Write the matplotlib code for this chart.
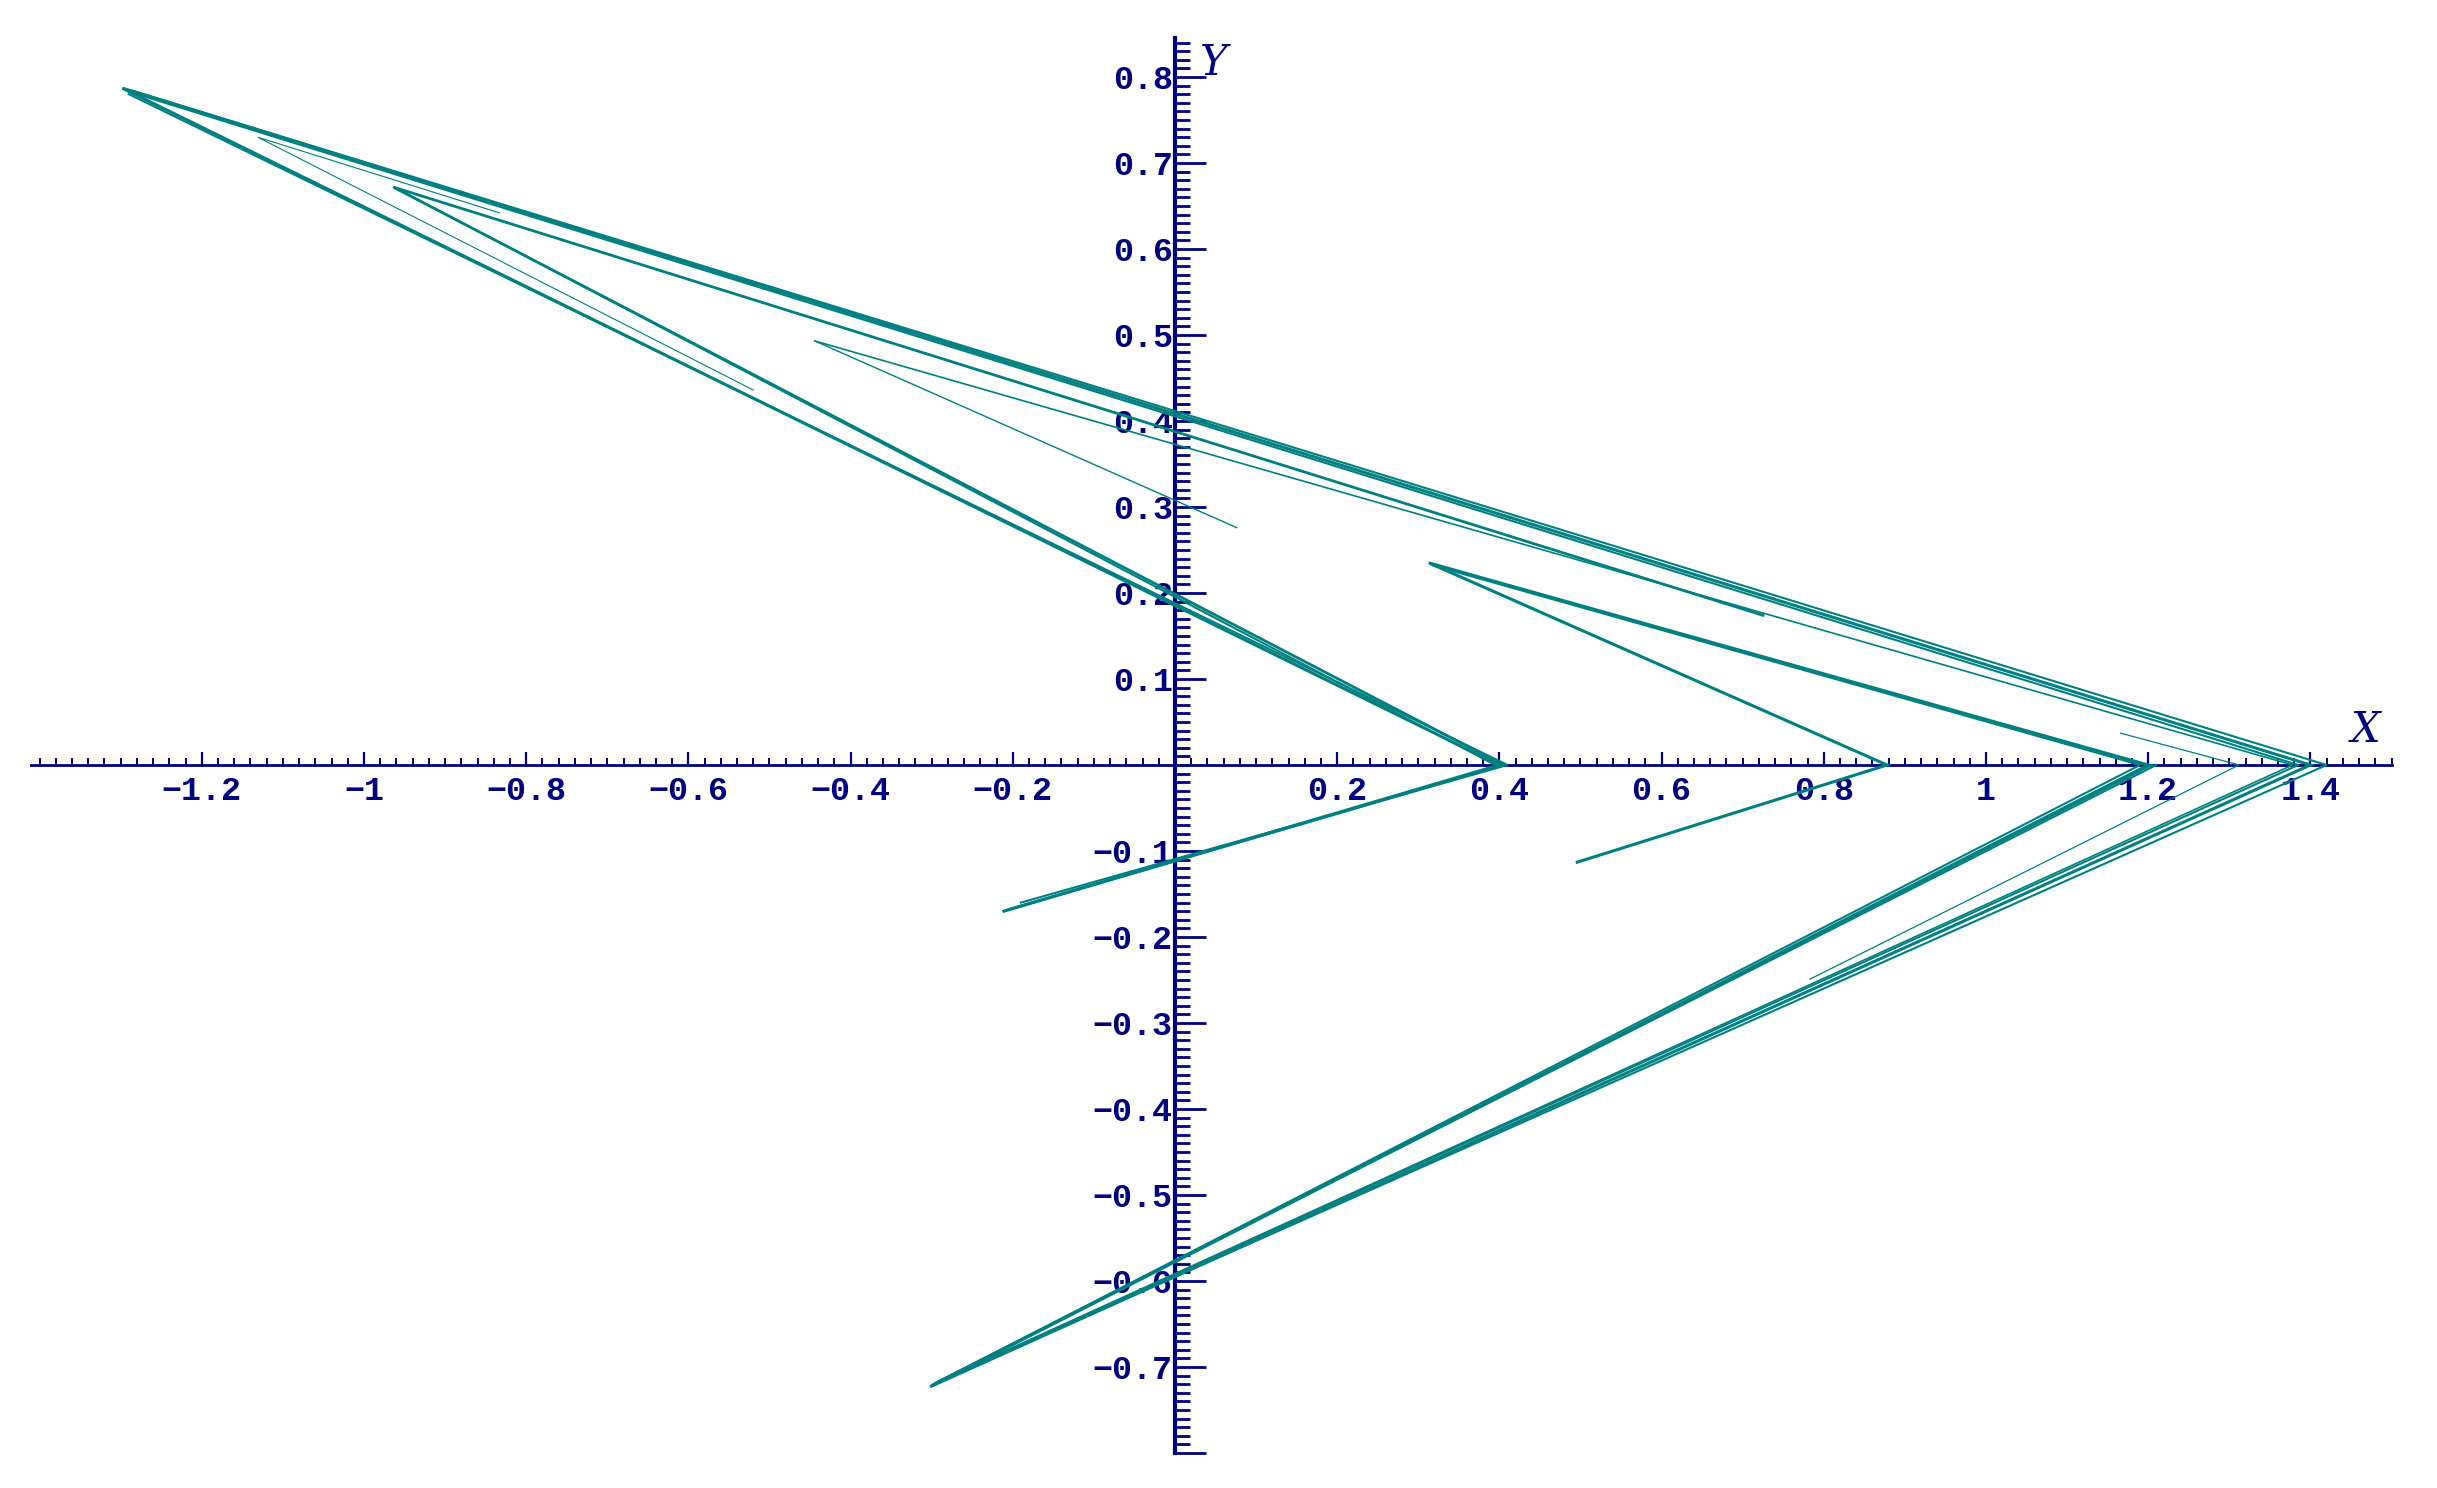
import matplotlib
matplotlib.use("Agg")
import matplotlib.pyplot as plt
import numpy as np
from matplotlib.ticker import FixedLocator, FixedFormatter

# ---- data: polylines (x, y vertices) ----
main_x = [0.496, 0.878, 0.313, 1.200, -0.302, 1.400, -1.298, 0.400, -0.211]
main_y = [-0.113, 0.0, 0.235, 0.0, -0.723, 0.0, 0.787, 0.0, -0.170]

inner_x = [0.725, -0.964, 0.405, -0.205]
inner_y = [0.174, 0.672, 0.0, -0.168]

copy1_x = [0.318, 1.190, -0.298, 1.385, -1.290]
copy1_y = [0.232, 0.0, -0.720, 0.0, 0.783]

copy2_x = [1.210, -0.300, 1.420, -1.285]
copy2_y = [0.0, -0.721, 0.0, 0.784]

mid_x = [-0.444, 1.378, -0.295, 1.205]
mid_y = [0.493, 0.0, -0.718, 0.0]

short_x = [0.076, -0.444]
short_y = [0.276, 0.493]

inner2_x = [-0.955, 0.395]
inner2_y = [0.668, 0.0]

right_x = [0.783, 1.312, 1.166]
right_y = [-0.249, 0.0, 0.037]

tip_x = [-0.833, -1.131, -0.520]
tip_y = [0.642, 0.730, 0.436]

lower_x = [-1.290, 0.410, -0.190]
lower_y = [0.780, 0.0, -0.160]

x_major = [-1.2, -1.0, -0.8, -0.6, -0.4, -0.2, 0.2, 0.4, 0.6, 0.8, 1.0, 1.2, 1.4]
x_labels = ["\u22121.2", "\u22121", "\u22120.8", "\u22120.6", "\u22120.4", "\u22120.2",
            "0.2", "0.4", "0.6", "0.8", "1", "1.2", "1.4"]
y_major = [-0.8, -0.7, -0.6, -0.5, -0.4, -0.3, -0.2, -0.1, 0.1, 0.2, 0.3, 0.4, 0.5, 0.6, 0.7, 0.8]
y_labels = ["", "\u22120.7", "\u22120.6", "\u22120.5", "\u22120.4", "\u22120.3", "\u22120.2", "\u22120.1",
            "0.1", "0.2", "0.3", "0.4", "0.5", "0.6", "0.7", "0.8"]

# ---- figure ----
TEAL = "#008080"
NAVY = "#000080"

fig = plt.figure(figsize=(24.37, 14.88), dpi=100)
ax = fig.add_axes([0, 0, 1, 1])
ax.set_xlim(-1.4488, 1.5561)
ax.set_ylim(-0.8407, 0.8895)

strokes = [
    (main_x, main_y, 2.2),
    (inner_x, inner_y, 2.0),
    (copy1_x, copy1_y, 1.5),
    (copy2_x, copy2_y, 1.5),
    (mid_x, mid_y, 1.2),
    (short_x, short_y, 1.0),
    (inner2_x, inner2_y, 1.5),
    (right_x, right_y, 0.9),
    (tip_x, tip_y, 0.8),
    (lower_x, lower_y, 1.5),
]
for xs, ys, lw in strokes:
    ax.plot(xs, ys, color=TEAL, lw=lw, solid_joinstyle="miter", zorder=3)

for s in ["top", "right"]:
    ax.spines[s].set_visible(False)
ax.spines["left"].set_position(("data", 0))
ax.spines["bottom"].set_position(("data", 0))
ax.spines["left"].set_bounds(-0.80, 0.845)
ax.spines["bottom"].set_bounds(-1.41, 1.50)
ax.spines["left"].set_color(NAVY)
ax.spines["bottom"].set_color(NAVY)
ax.spines["left"].set_linewidth(3.0)
ax.spines["bottom"].set_linewidth(2.0)
ax.patch.set_alpha(0)

ax.xaxis.set_major_locator(FixedLocator(x_major))
ax.xaxis.set_major_formatter(FixedFormatter(x_labels))
ax.yaxis.set_major_locator(FixedLocator(y_major))
ax.yaxis.set_major_formatter(FixedFormatter(y_labels))

x_minor = [v / 100 for v in range(-140, 151, 2)]
y_minor = [v / 100 for v in range(-80, 85, 1)]
ax.xaxis.set_minor_locator(FixedLocator(x_minor))
ax.yaxis.set_minor_locator(FixedLocator(y_minor))

ax.tick_params(axis="x", which="major", direction="in", length=9.5, width=1.6,
               color=NAVY, pad=8, labelsize=24, labelcolor=NAVY)
ax.tick_params(axis="x", which="minor", direction="in", length=5, width=1.4, color=NAVY)
ax.tick_params(axis="y", which="major", direction="in", length=22, width=2.0,
               color=NAVY, pad=-1, labelsize=24, labelcolor=NAVY)
ax.tick_params(axis="y", which="minor", direction="in", length=11, width=2.0, color=NAVY)

for lab in ax.get_xticklabels() + ax.get_yticklabels():
    lab.set_fontfamily("Liberation Mono")
    lab.set_fontweight("bold")
for lab in ax.get_yticklabels():
    lab.set_horizontalalignment("right")
    lab.set_x(-0.0045)

ax.text(1.468, 0.016, "X", color=NAVY, fontsize=30, fontstyle="italic",
        fontfamily="DejaVu Serif", ha="center", va="bottom")
ax.text(0.048, 0.792, "Y", color=NAVY, fontsize=30, fontstyle="italic",
        fontfamily="DejaVu Serif", ha="center", va="bottom")

fig.savefig("out.png", dpi=100, facecolor="white")
